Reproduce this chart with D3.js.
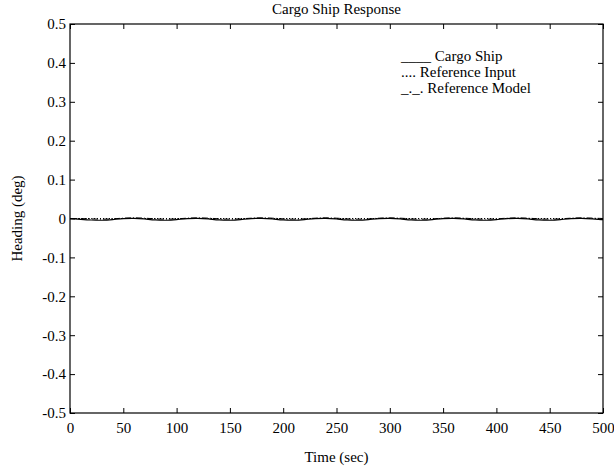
<!DOCTYPE html>
<html><head><meta charset="utf-8">
<script src="https://cdn.jsdelivr.net/npm/d3@7"></script>
<style>body{margin:0;background:#fff}svg{display:block}text{font-family:"Liberation Serif","Times New Roman",serif;fill:#000}</style>
</head><body>
<svg id="c" width="614" height="467"></svg>
<script>
const time = [0,10,20,30,40,50,60,70,80,90,100,110,120,130,140,150,160,170,180,190,200,210,220,230,240,250,260,270,280,290,300,310,320,330,340,350,360,370,380,390,400,410,420,430,440,450,460,470,480,490,500];
const cargoShip = [0,-0.002,-0.004,-0.005,-0.003,0.000,0.001,-0.001,-0.004,-0.005,-0.003,0.000,0.001,-0.001,-0.004,-0.005,-0.003,0.000,0.001,-0.001,-0.004,-0.005,-0.003,0.000,0.001,-0.001,-0.004,-0.005,-0.003,0.000,0.001,-0.001,-0.004,-0.005,-0.003,0.000,0.001,-0.001,-0.004,-0.005,-0.003,0.000,0.001,-0.001,-0.004,-0.005,-0.003,0.000,0.001,-0.001,-0.003];
const referenceInput = time.map(() => 0);
const referenceModel = [0,0.000,-0.001,-0.002,-0.001,0.001,0.002,0.001,-0.001,-0.002,-0.001,0.001,0.002,0.001,-0.001,-0.002,-0.001,0.001,0.002,0.001,-0.001,-0.002,-0.001,0.001,0.002,0.001,-0.001,-0.002,-0.001,0.001,0.002,0.001,-0.001,-0.002,-0.001,0.001,0.002,0.001,-0.001,-0.002,-0.001,0.001,0.002,0.001,-0.001,-0.002,-0.001,0.001,0.002,0.001,0.000];
const xTicks = [0,50,100,150,200,250,300,350,400,450,500];
const yTicks = [-0.5,-0.4,-0.3,-0.2,-0.1,0,0.1,0.2,0.3,0.4,0.5];
const legendLabels = ["____ Cargo Ship", ".... Reference Input", "_._. Reference Model"];

const svg = d3.select("#c");
const L=70,R=603,T=24,B=413;
const FS="15px";
const x = d3.scaleLinear().domain([0,500]).range([L,R]);
const y = d3.scaleLinear().domain([-0.5,0.5]).range([B,T]);
const fmt = d => d===0 ? "0" : d3.format(".1f")(d).replace("−","-");

function styleAxis(g){ g.select(".domain").remove(); g.selectAll("line").attr("stroke","#000"); g.selectAll("text").style("font-size",FS).style("font-family",'"Liberation Serif",serif'); }

svg.append("g").attr("transform",`translate(0,${B})`).call(d3.axisBottom(x).tickValues(xTicks).tickSize(-5).tickPadding(9).tickFormat(d3.format("d"))).call(styleAxis);
svg.append("g").attr("transform",`translate(0,${T})`).call(d3.axisTop(x).tickValues(xTicks).tickSize(-5).tickFormat("")).call(styleAxis);
svg.append("g").attr("transform",`translate(${L},0)`).call(d3.axisLeft(y).tickValues(yTicks).tickSize(-5).tickPadding(4).tickFormat(fmt)).call(styleAxis);
svg.append("g").attr("transform",`translate(${R},0)`).call(d3.axisRight(y).tickValues(yTicks).tickSize(-5).tickFormat("")).call(styleAxis);

svg.append("rect").attr("x",L).attr("y",T).attr("width",R-L).attr("height",B-T).attr("fill","none").attr("stroke","#000").attr("stroke-width",1.2);

const line = arr => d3.line().x((d,i)=>x(time[i])).y(d=>y(d)).curve(d3.curveBasis)(arr);
svg.append("path").attr("d",line(referenceInput)).attr("fill","none").attr("stroke","#000").attr("stroke-width",1).attr("stroke-dasharray","1,2");
svg.append("path").attr("d",line(referenceModel)).attr("fill","none").attr("stroke","#000").attr("stroke-width",1).attr("stroke-dasharray","6,2,1,2");
svg.append("path").attr("d",line(cargoShip)).attr("fill","none").attr("stroke","#000").attr("stroke-width",1.2);

svg.append("text").attr("x",(L+R)/2).attr("y",14).attr("text-anchor","middle").style("font-size",FS).text("Cargo Ship Response");
svg.append("text").attr("x",(L+R)/2).attr("y",462).attr("text-anchor","middle").style("font-size",FS).text("Time (sec)");
svg.append("text").attr("transform",`translate(22,${(T+B)/2}) rotate(-90)`).attr("text-anchor","middle").style("font-size",FS).text("Heading (deg)");

legendLabels.forEach((t,i)=>svg.append("text").attr("x",401).attr("y",61+i*16).style("font-size",FS).text(t));
</script>
</body></html>
